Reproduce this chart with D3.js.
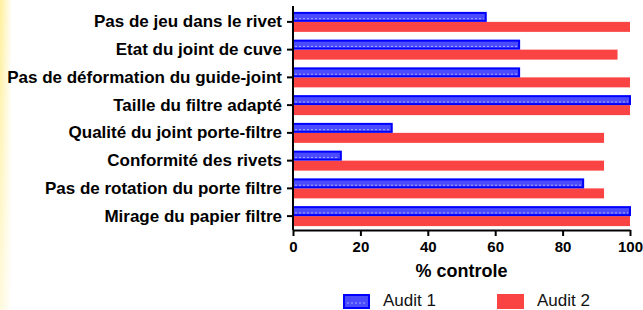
<!DOCTYPE html>
<html>
<head>
<meta charset="utf-8">
<script src="https://cdn.jsdelivr.net/npm/d3@7"></script>
<style>
  html, body { margin: 0; padding: 0; background: #fff; }
  svg { display: block; font-family: Arial, "Liberation Sans", sans-serif; }
</style>
</head>
<body>
<script>
// categories, top to bottom
const categories = [
  'Pas de jeu dans le rivet',
  'Etat du joint de cuve',
  'Pas de déformation du guide-joint',
  'Taille du filtre adapté',
  'Qualité du joint porte-filtre',
  'Conformité des rivets',
  'Pas de rotation du porte filtre',
  'Mirage du papier filtre'
];
const seriesNames = ['Audit 1', 'Audit 2'];
const audit1 = [57.2, 67.1, 67.1, 100, 29.3, 14.2, 86.1, 100];
const audit2 = [100, 96.3, 100, 100, 92.3, 92.3, 92.3, 100];
const xTicks = [0, 20, 40, 60, 80, 100];
const xTitle = '% controle';

const W = 643, H = 310;
const colors = { 'Audit 1': '#4a4aff', 'Audit 2': '#fa4343' };

const svg = d3.select('body').append('svg')
  .attr('width', W)
  .attr('height', H);

// left yellow fade (stronger near the top)
const defs = svg.append('defs');
const grad = defs.append('linearGradient')
  .attr('id', 'fade')
  .attr('x1', 0).attr('x2', 1).attr('y1', 0).attr('y2', 0);
grad.append('stop').attr('offset', '0%').attr('stop-color', '#ffef9a');
grad.append('stop').attr('offset', '100%').attr('stop-color', '#ffffff');
const vmask = defs.append('linearGradient')
  .attr('id', 'vfade')
  .attr('x1', 0).attr('x2', 0).attr('y1', 0).attr('y2', 1);
vmask.append('stop').attr('offset', '0%').attr('stop-color', '#fff').attr('stop-opacity', 1);
vmask.append('stop').attr('offset', '100%').attr('stop-color', '#fff').attr('stop-opacity', 0.35);
defs.append('mask').attr('id', 'vm')
  .append('rect').attr('x', 0).attr('y', 0).attr('width', 14).attr('height', H)
  .attr('fill', 'url(#vfade)');
svg.append('rect')
  .attr('x', 0).attr('y', 0)
  .attr('width', 12).attr('height', H)
  .attr('fill', 'url(#fade)')
  .attr('mask', 'url(#vm)');

// scales
const x = d3.scaleLinear().domain([0, 100]).range([293, 630]);
const y0 = d3.scaleBand().domain(categories).range([8, 230])
  .paddingInner(0.28).paddingOuter(0.14);
const y1 = d3.scaleBand().domain(seriesNames).range([0, y0.bandwidth()]);

const rows = categories.map((c, i) => ({ cat: c, vals: [
  { key: 'Audit 1', v: audit1[i] },
  { key: 'Audit 2', v: audit2[i] }
]}));

const groups = svg.append('g').selectAll('g')
  .data(rows)
  .join('g')
  .attr('transform', d => `translate(0,${y0(d.cat)})`);

// red bars
groups.selectAll('rect.a2')
  .data(d => d.vals.filter(v => v.key === 'Audit 2'))
  .join('rect')
  .attr('class', 'a2')
  .attr('x', x(0))
  .attr('y', d => y1(d.key))
  .attr('width', d => x(d.v) - x(0))
  .attr('height', y1.bandwidth())
  .attr('fill', colors['Audit 2']);

// blue bars with dark outline and dotted line
const b1 = groups.selectAll('g.a1')
  .data(d => d.vals.filter(v => v.key === 'Audit 1'))
  .join('g')
  .attr('class', 'a1');

b1.append('rect')
  .attr('x', x(0))
  .attr('y', d => y1(d.key) + 1)
  .attr('width', d => x(d.v) - x(0))
  .attr('height', y1.bandwidth() - 2)
  .attr('fill', colors['Audit 1'])
  .attr('stroke', '#0000ff')
  .attr('stroke-width', 2);

b1.append('line')
  .attr('x1', x(0) + 2)
  .attr('x2', d => x(d.v) - 2)
  .attr('y1', d => y1(d.key) + y1.bandwidth() * 0.68)
  .attr('y2', d => y1(d.key) + y1.bandwidth() * 0.68)
  .attr('stroke', '#a8a8ff')
  .attr('stroke-width', 1)
  .attr('stroke-dasharray', '2,2');

// axes
const yAxis = svg.append('g')
  .attr('transform', `translate(${x(0)},0)`)
  .call(d3.axisLeft(y0).tickSize(6).tickSizeOuter(0).tickPadding(5));
yAxis.select('.domain').attr('d', 'M0,6V230');

const xAxis = svg.append('g')
  .attr('transform', 'translate(0,230)')
  .call(d3.axisBottom(x).tickValues(xTicks).tickSize(6).tickSizeOuter(0).tickPadding(5));

[yAxis, xAxis].forEach(a => {
  a.select('.domain').attr('stroke', '#000').attr('stroke-width', 2);
  a.selectAll('.tick line').attr('stroke', '#000').attr('stroke-width', 2);
  a.selectAll('.tick text')
    .attr('fill', '#000')
    .style('font-family', 'Arial, "Liberation Sans", sans-serif')
    .style('font-weight', 'bold');
});
yAxis.selectAll('.tick text').style('font-size', '17px');
xAxis.selectAll('.tick text').style('font-size', '15px');

svg.append('text')
  .attr('x', (x(0) + x(100)) / 2)
  .attr('y', 277)
  .attr('text-anchor', 'middle')
  .style('font-size', '18px')
  .style('font-weight', 'bold')
  .attr('fill', '#000')
  .text(xTitle);

// legend
const legendX = d3.scalePoint().domain(seriesNames).range([343, 497]);
const leg = svg.append('g').selectAll('g')
  .data(seriesNames)
  .join('g')
  .attr('transform', d => `translate(${legendX(d)},294)`);

leg.append('rect')
  .attr('x', d => d === 'Audit 1' ? 1 : 0)
  .attr('y', d => d === 'Audit 1' ? 1 : 0)
  .attr('width', d => d === 'Audit 1' ? 25 : 27)
  .attr('height', d => d === 'Audit 1' ? 13 : 15)
  .attr('fill', d => colors[d])
  .attr('stroke', d => d === 'Audit 1' ? '#0000ff' : 'none')
  .attr('stroke-width', 2);

leg.filter(d => d === 'Audit 1').append('line')
  .attr('x1', 4).attr('x2', 23)
  .attr('y1', 9).attr('y2', 9)
  .attr('stroke', '#a8a8ff')
  .attr('stroke-dasharray', '2,2');

leg.append('text')
  .attr('x', 40)
  .attr('y', 12)
  .style('font-size', '17px')
  .attr('fill', '#111')
  .text(d => d);
</script>
</body>
</html>
